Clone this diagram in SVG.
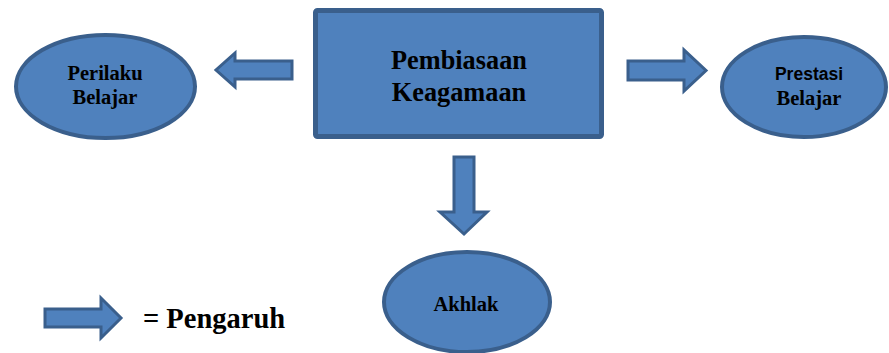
<svg xmlns="http://www.w3.org/2000/svg" width="889" height="353" viewBox="0 0 889 353">
<style>
.shape{fill:#4F81BD;stroke:#3A5F8C}
.ell{stroke-width:4}
.arr{stroke-width:3;stroke-linejoin:miter}
.t{font-family:"Liberation Serif","Times New Roman",serif;font-weight:bold;fill:#000;text-anchor:middle}
.s{font-family:"Liberation Sans",Arial,sans-serif;font-weight:bold;fill:#000;text-anchor:middle}
</style>
<rect width="889" height="353" fill="#fff"/>
<g id="connectors">
<polygon class="shape arr" points="292,61 235,61 235,53 216,70 235,87 235,79 292,79"/>
<polygon class="shape arr" points="628,61 684,61 684,50 706,70.5 684,91 684,80 628,80"/>
<polygon class="shape arr" points="454,157 474,157 474,212 487,212 464,234 440,212 454,212"/>
</g>
<g id="pembiasaan">
<rect class="shape" x="315.5" y="10.5" width="286" height="126" rx="2" stroke-width="5"/>
<text class="t" x="459" y="69" font-size="26.3">Pembiasaan</text>
<text class="t" x="459" y="100.5" font-size="26.3">Keagamaan</text>
</g>
<g id="perilaku">
<ellipse class="shape ell" cx="105.5" cy="86.5" rx="89.5" ry="51.5"/>
<text class="t" x="105" y="80" font-size="20.5">Perilaku</text>
<text class="t" x="105" y="104" font-size="20.5">Belajar</text>
</g>
<g id="prestasi">
<ellipse class="shape ell" cx="804" cy="87" rx="82" ry="50"/>
<text class="s" x="809" y="80" font-size="17.5">Prestasi</text>
<text class="t" x="809" y="105" font-size="20.5">Belajar</text>
</g>
<g id="akhlak">
<ellipse class="shape ell" cx="467" cy="302" rx="83" ry="50"/>
<text class="t" x="466" y="310.5" font-size="20.5">Akhlak</text>
</g>
<g id="legend">
<polygon class="shape arr" points="45,309 101,309 101,298 121,318 101,338 101,327 45,327"/>
<text class="t" x="143" y="328" font-size="28.5" style="text-anchor:start">= Pengaruh</text>
</g>
</svg>
